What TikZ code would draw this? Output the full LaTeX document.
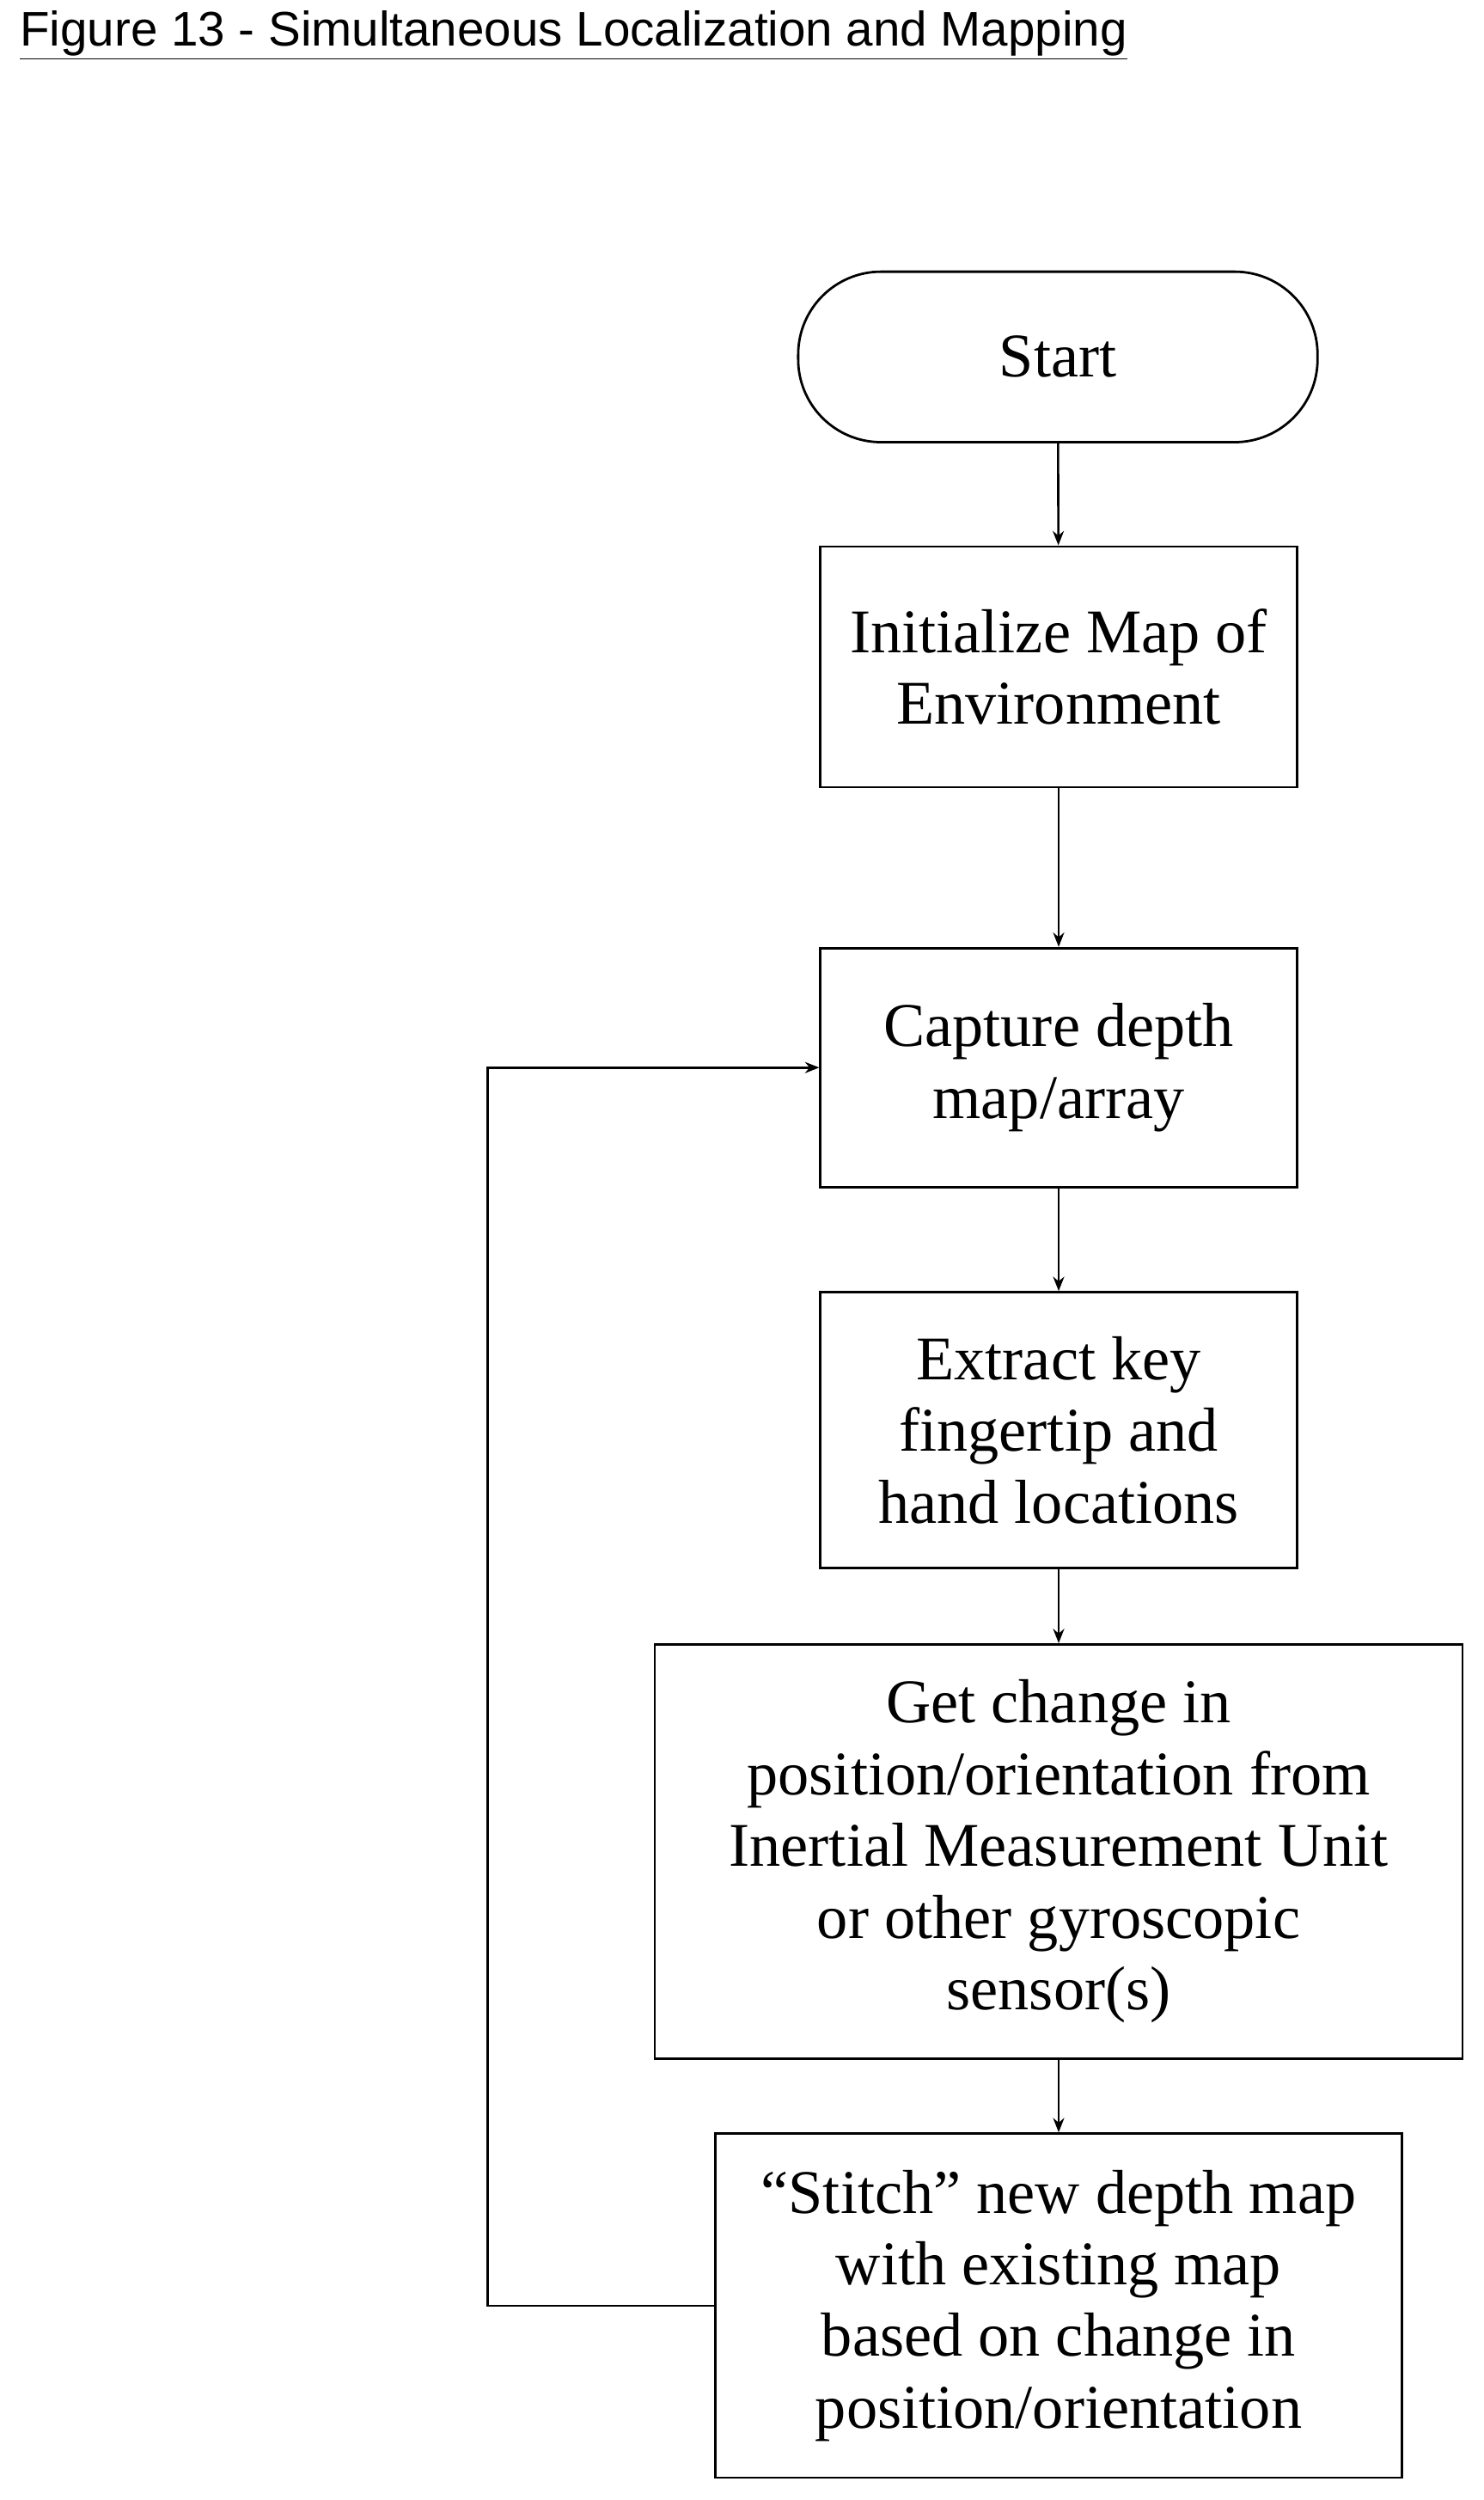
\documentclass[tikz,border=0pt]{standalone}
\usepackage{fontspec}
\setmainfont{Liberation Serif}
\newfontfamily\titlefont{Liberation Sans}
\usetikzlibrary{arrows.meta}
\begin{document}
\begin{tikzpicture}[x=1pt,y=-1pt,
  box/.style={draw,line width=1.5pt,align=center,inner sep=0pt,font=\fontsize{39}{45}\selectfont},
  arr/.style={line width=1.4pt,-{Stealth[length=9pt,width=7pt]}}]
\useasboundingbox (0,0) rectangle (931,1569);
\node[anchor=west,font=\titlefont\fontsize{30.5}{34}\selectfont] (title) at (9,22) {\underline{Figure 13 - Simultaneous Localization and Mapping}};
\node[box,rounded corners=52pt,minimum width=326pt,minimum height=107pt] (start) at (664,224) {Start};
\node[box,minimum width=299pt,minimum height=151pt] (init) at (664.5,418.5) {Initialize Map of\\Environment};
\node[box,minimum width=299pt,minimum height=150pt] (cap) at (664.5,670) {Capture depth\\map/array};
\node[box,minimum width=299pt,minimum height=173pt] (ext) at (664.5,897.5) {Extract key\\fingertip and\\hand locations};
\node[box,minimum width=507pt,minimum height=260pt] (get) at (664.5,1162) {Get change in\\position/orientation from\\Inertial Measurement Unit\\or other gyroscopic\\sensor(s)};
\node[box,minimum width=431pt,minimum height=216pt] (st) at (664.5,1447) {“Stitch” new depth map\\with existing map\\based on change in\\position/orientation};
\draw[arr] (start) -- (init);
\draw[arr] (init) -- (cap);
\draw[arr] (cap) -- (ext);
\draw[arr] (ext) -- (get);
\draw[arr] (get) -- (st);
\coordinate (c1) at (306,1447);
\coordinate (c2) at (306,670);
\draw[arr] (st.west) -- (c1) -- (c2) -- (cap.west);
\end{tikzpicture}
\end{document}
